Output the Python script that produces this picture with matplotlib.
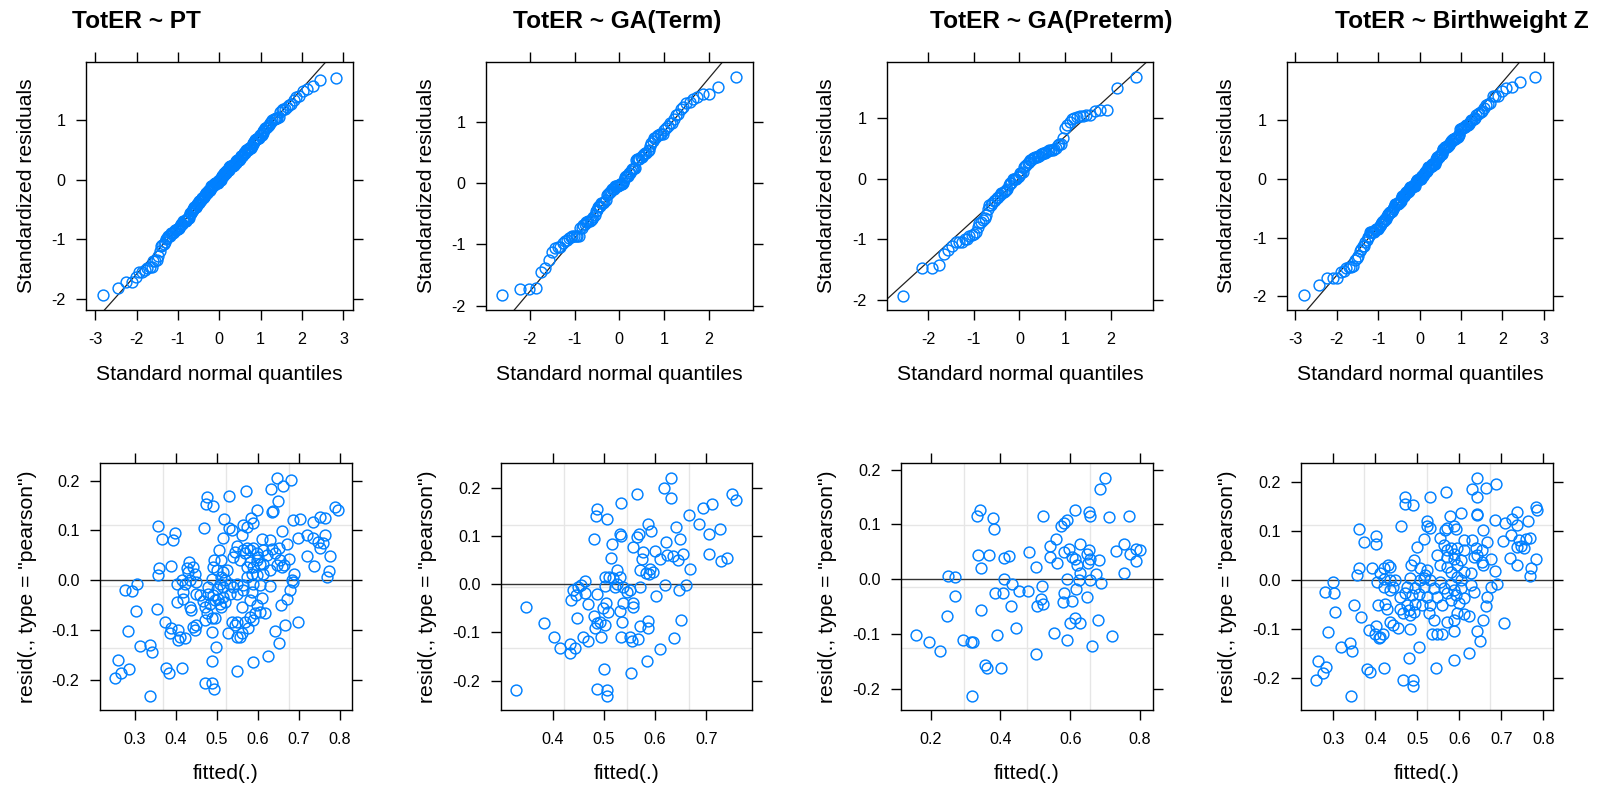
import numpy as np
import matplotlib
matplotlib.use("Agg")
import matplotlib.pyplot as plt
from statistics import NormalDist

plt.rcParams['font.family'] = ['Liberation Sans', 'DejaVu Sans']
plt.rcParams['axes.unicode_minus'] = False

# ---------------- data ----------------
titles = ["TotER ~ PT", "TotER ~ GA(Term)", "TotER ~ GA(Preterm)", "TotER ~ Birthweight Z"]

# (fitted, pearson residual) pairs
pt_points = [
(0.646,0.205),(0.681,0.201),(0.632,0.183),(0.660,0.189),(0.571,0.179),(0.530,0.169),(0.475,0.167),(0.473,0.153),(0.491,0.150),(0.648,0.160),
(0.636,0.140),(0.633,0.137),(0.597,0.142),(0.517,0.123),(0.564,0.111),(0.583,0.124),(0.589,0.114),(0.572,0.107),(0.357,0.108),(0.398,0.094),
(0.367,0.082),(0.393,0.080),(0.469,0.105),(0.530,0.104),(0.536,0.100),(0.659,0.099),(0.686,0.120),(0.702,0.122),(0.733,0.117),(0.751,0.126),
(0.763,0.124),(0.788,0.147),(0.796,0.142),(0.515,0.084),(0.560,0.090),(0.609,0.082),(0.629,0.080),(0.698,0.084),(0.719,0.090),(0.733,0.084),
(0.747,0.077),(0.763,0.090),(0.759,0.074),(0.750,0.064),(0.776,0.048),(0.719,0.048),(0.737,0.029),(0.774,0.018),(0.767,0.007),(0.506,0.060),
(0.548,0.068),(0.564,0.060),(0.572,0.064),(0.580,0.060),(0.589,0.064),(0.597,0.054),(0.613,0.060),(0.633,0.062),(0.650,0.064),(0.670,0.072),
(0.540,0.047),(0.556,0.040),(0.597,0.040),(0.613,0.033),(0.641,0.054),(0.654,0.040),(0.676,0.042),(0.664,0.030),(0.646,0.030),(0.572,0.027),
(0.589,0.027),(0.493,0.040),(0.511,0.040),(0.491,0.027),(0.499,0.020),(0.515,0.017),(0.524,0.020),(0.431,0.037),(0.426,0.025),(0.441,0.027),
(0.430,0.017),(0.359,0.025),(0.388,0.028),(0.357,0.010),(0.585,0.013),(0.597,0.010),(0.613,0.013),(0.629,0.020),(0.688,0.013),(0.682,0.000),
(0.572,0.007),(0.402,-0.008),(0.414,0.000),(0.422,-0.007),(0.434,0.000),(0.449,-0.003),(0.487,0.003),(0.511,0.007),(0.520,0.000),(0.532,-0.007),
(0.548,-0.007),(0.564,-0.010),(0.589,-0.007),(0.605,-0.010),(0.629,-0.012),(0.685,-0.003),(0.479,-0.013),(0.499,-0.017),(0.515,-0.013),(0.304,-0.007),
(0.276,-0.020),(0.294,-0.022),(0.678,-0.020),(0.670,-0.037),(0.655,-0.049),(0.609,-0.035),(0.585,-0.023),(0.564,-0.020),(0.548,-0.027),(0.532,-0.027),
(0.515,-0.033),(0.503,-0.037),(0.491,-0.030),(0.479,-0.027),(0.459,-0.030),(0.450,-0.027),(0.418,-0.023),(0.402,-0.043),(0.418,-0.037),(0.434,-0.054),
(0.437,-0.059),(0.467,-0.042),(0.471,-0.054),(0.483,-0.047),(0.495,-0.040),(0.507,-0.047),(0.520,-0.043),(0.511,-0.054),(0.560,-0.054),(0.580,-0.040),
(0.597,-0.050),(0.617,-0.067),(0.605,-0.064),(0.593,-0.067),(0.580,-0.074),(0.568,-0.084),(0.589,-0.080),(0.548,-0.084),(0.536,-0.084),(0.544,-0.090),
(0.353,-0.057),(0.302,-0.062),(0.373,-0.084),(0.388,-0.097),(0.385,-0.107),(0.406,-0.100),(0.406,-0.120),(0.422,-0.117),(0.410,-0.114),(0.442,-0.094),
(0.450,-0.090),(0.446,-0.100),(0.475,-0.067),(0.487,-0.077),(0.495,-0.077),(0.471,-0.080),(0.487,-0.105),(0.528,-0.107),(0.548,-0.114),(0.556,-0.114),
(0.560,-0.107),(0.576,-0.097),(0.641,-0.102),(0.666,-0.090),(0.698,-0.084),(0.284,-0.102),(0.312,-0.132),(0.338,-0.130),(0.341,-0.144),(0.498,-0.134),
(0.650,-0.126),(0.625,-0.153),(0.589,-0.164),(0.548,-0.183),(0.487,-0.163),(0.259,-0.161),(0.267,-0.187),(0.286,-0.179),(0.252,-0.196),(0.376,-0.177),
(0.384,-0.187),(0.416,-0.176),(0.471,-0.206),(0.489,-0.207),(0.493,-0.219),(0.338,-0.232),
(0.544,0.057),(0.568,0.054),(0.601,0.047),(0.621,0.050),(0.605,0.033),(0.580,0.037),(0.658,0.027),(0.446,0.013),(0.507,-0.007),(0.540,-0.013),
]

ga_term_points = [
(0.631,0.220),(0.617,0.199),(0.630,0.179),(0.564,0.186),(0.533,0.168),(0.486,0.155),(0.484,0.141),(0.505,0.134),(0.585,0.124),(0.592,0.110),
(0.640,0.119),(0.648,0.094),(0.666,0.143),(0.686,0.124),(0.694,0.158),(0.711,0.166),(0.750,0.186),(0.758,0.175),(0.726,0.115),(0.706,0.103),
(0.531,0.103),(0.533,0.100),(0.564,0.098),(0.568,0.103),(0.481,0.094),(0.516,0.083),(0.557,0.077),(0.577,0.067),(0.599,0.069),(0.622,0.088),
(0.623,0.060),(0.634,0.058),(0.645,0.050),(0.655,0.063),(0.609,0.051),(0.575,0.051),(0.513,0.054),(0.525,0.029),(0.502,0.014),(0.510,0.014),
(0.518,0.012),(0.531,0.014),(0.570,0.029),(0.582,0.022),(0.590,0.032),(0.595,0.026),(0.588,0.021),(0.668,0.032),(0.705,0.062),(0.728,0.048),
(0.740,0.054),(0.463,0.006),(0.456,-0.002),(0.450,-0.006),(0.440,-0.012),(0.445,-0.023),(0.435,-0.034),(0.463,-0.019),(0.468,-0.042),(0.487,-0.021),
(0.502,-0.004),(0.521,-0.006),(0.525,0.000),(0.538,-0.006),(0.544,-0.016),(0.551,-0.012),(0.571,-0.006),(0.601,-0.025),(0.619,-0.002),(0.647,-0.012),
(0.661,-0.002),(0.504,-0.040),(0.508,-0.057),(0.499,-0.050),(0.538,-0.039),(0.531,-0.055),(0.557,-0.040),(0.557,-0.048),(0.348,-0.048),(0.382,-0.081),
(0.447,-0.071),(0.481,-0.066),(0.486,-0.080),(0.492,-0.078),(0.502,-0.085),(0.483,-0.092),(0.536,-0.078),(0.570,-0.087),(0.586,-0.077),(0.585,-0.092),
(0.650,-0.074),(0.403,-0.110),(0.414,-0.132),(0.434,-0.124),(0.444,-0.133),(0.434,-0.142),(0.460,-0.109),(0.468,-0.118),(0.494,-0.109),(0.534,-0.109),
(0.551,-0.109),(0.554,-0.119),(0.567,-0.114),(0.636,-0.111),(0.610,-0.135),(0.584,-0.159),(0.501,-0.176),(0.553,-0.185),(0.329,-0.219),(0.486,-0.218),
(0.505,-0.219),(0.506,-0.232),
]

ga_preterm_points = [
(0.699,0.185),(0.684,0.165),(0.340,0.126),(0.332,0.115),(0.380,0.111),(0.382,0.092),(0.523,0.116),(0.614,0.126),(0.653,0.123),(0.657,0.116),
(0.710,0.113),(0.767,0.115),(0.590,0.108),(0.581,0.103),(0.573,0.097),(0.559,0.074),(0.541,0.061),(0.541,0.041),(0.562,0.029),(0.581,0.050),
(0.595,0.056),(0.605,0.040),(0.614,0.038),(0.627,0.064),(0.648,0.047),(0.653,0.053),(0.657,0.038),(0.651,0.030),(0.681,0.035),(0.619,0.026),
(0.629,0.011),(0.675,0.010),(0.657,-0.001),(0.624,-0.001),(0.590,0.000),(0.688,-0.007),(0.732,0.052),(0.753,0.064),(0.770,0.047),(0.787,0.055),
(0.789,0.034),(0.799,0.053),(0.755,0.012),(0.335,0.045),(0.368,0.045),(0.409,0.039),(0.423,0.042),(0.344,0.021),(0.483,0.049),(0.502,0.023),
(0.251,0.006),(0.271,0.004),(0.409,0.000),(0.433,-0.008),(0.452,-0.021),(0.478,-0.022),(0.519,-0.012),(0.383,-0.025),(0.407,-0.024),(0.581,-0.025),
(0.579,-0.041),(0.605,-0.039),(0.648,-0.033),(0.517,-0.035),(0.504,-0.048),(0.521,-0.044),(0.270,-0.030),(0.344,-0.055),(0.430,-0.048),(0.248,-0.066),
(0.444,-0.088),(0.391,-0.102),(0.552,-0.097),(0.592,-0.110),(0.600,-0.079),(0.614,-0.071),(0.629,-0.080),(0.679,-0.074),(0.720,-0.104),(0.661,-0.121),
(0.158,-0.101),(0.196,-0.115),(0.227,-0.130),(0.292,-0.110),(0.315,-0.115),(0.322,-0.115),(0.356,-0.156),(0.361,-0.162),(0.402,-0.162),(0.502,-0.136),
(0.318,-0.212),(0.617,-0.018),
]

bwz_points = [
(0.643,0.209),(0.688,0.197),(0.631,0.185),(0.663,0.187),(0.641,0.169),(0.569,0.180),(0.529,0.170),(0.471,0.170),(0.470,0.155),(0.489,0.153),
(0.641,0.133),(0.643,0.135),(0.603,0.137),(0.577,0.131),(0.523,0.121),(0.529,0.107),(0.571,0.107),(0.587,0.110),(0.593,0.105),(0.361,0.104),
(0.402,0.090),(0.372,0.078),(0.401,0.073),(0.462,0.111),(0.565,0.102),(0.522,0.110),(0.656,0.103),(0.685,0.122),(0.708,0.117),(0.725,0.124),
(0.737,0.139),(0.738,0.112),(0.764,0.121),(0.782,0.150),(0.786,0.144),(0.515,0.084),(0.555,0.085),(0.499,0.067),(0.611,0.082),(0.631,0.082),
(0.667,0.077),(0.563,0.071),(0.571,0.061),(0.579,0.065),(0.587,0.054),(0.595,0.065),(0.611,0.061),(0.639,0.065),(0.655,0.061),(0.547,0.051),
(0.571,0.048),(0.587,0.044),(0.603,0.041),(0.635,0.048),(0.643,0.051),(0.655,0.037),(0.675,0.044),(0.657,0.031),(0.723,0.092),(0.704,0.080),
(0.741,0.082),(0.758,0.083),(0.769,0.085),(0.746,0.069),(0.754,0.065),(0.738,0.067),(0.721,0.046),(0.737,0.031),(0.782,0.044),(0.770,0.024),
(0.769,0.008),(0.684,0.018),(0.491,0.041),(0.485,0.031),(0.507,0.024),(0.523,0.020),(0.519,0.010),(0.515,0.005),(0.555,0.031),(0.571,0.027),
(0.595,0.031),(0.611,0.017),(0.627,0.014),(0.579,0.017),(0.595,0.007),(0.431,0.031),(0.435,0.027),(0.420,0.024),(0.412,0.014),(0.360,0.024),
(0.392,0.025),(0.356,0.010),(0.420,0.003),(0.435,0.000),(0.447,0.000),(0.404,-0.003),(0.483,0.005),(0.507,0.000),(0.531,0.000),(0.555,-0.003),
(0.580,-0.007),(0.603,0.000),(0.628,-0.010),(0.690,-0.007),(0.675,-0.014),(0.300,-0.003),(0.280,-0.024),(0.302,-0.027),(0.475,-0.014),(0.495,-0.017),
(0.515,-0.014),(0.539,-0.017),(0.563,-0.017),(0.587,-0.020),(0.603,-0.017),(0.420,-0.014),(0.443,-0.014),(0.435,-0.020),(0.459,-0.034),(0.471,-0.027),
(0.487,-0.031),(0.503,-0.029),(0.523,-0.034),(0.547,-0.034),(0.571,-0.027),(0.591,-0.031),(0.611,-0.036),(0.667,-0.034),(0.663,-0.052),(0.635,-0.024),
(0.348,-0.050),(0.406,-0.050),(0.424,-0.048),(0.427,-0.058),(0.459,-0.058),(0.475,-0.051),(0.479,-0.061),(0.495,-0.048),(0.511,-0.051),(0.531,-0.051),
(0.559,-0.051),(0.579,-0.041),(0.599,-0.046),(0.467,-0.068),(0.483,-0.071),(0.491,-0.065),(0.527,-0.068),(0.595,-0.068),(0.611,-0.069),(0.623,-0.073),
(0.571,-0.085),(0.587,-0.082),(0.539,-0.082),(0.304,-0.066),(0.366,-0.076),(0.435,-0.085),(0.443,-0.092),(0.455,-0.097),(0.483,-0.099),(0.535,-0.109),
(0.547,-0.109),(0.559,-0.109),(0.587,-0.103),(0.657,-0.082),(0.643,-0.103),(0.649,-0.124),(0.706,-0.088),(0.384,-0.102),(0.402,-0.093),(0.400,-0.109),
(0.408,-0.119),(0.412,-0.116),(0.418,-0.109),(0.288,-0.105),(0.318,-0.137),(0.340,-0.129),(0.344,-0.144),(0.503,-0.137),(0.481,-0.158),(0.623,-0.148),
(0.587,-0.162),(0.545,-0.180),(0.264,-0.165),(0.282,-0.177),(0.275,-0.190),(0.259,-0.203),(0.381,-0.182),(0.388,-0.188),(0.420,-0.179),(0.467,-0.203),
(0.489,-0.203),(0.490,-0.216),(0.342,-0.236),
]

# residual standard deviation of each model (scales pearson -> standardized)
sigmas = [0.120, 0.127, 0.110, 0.120]

panel_points = [pt_points, ga_term_points, ga_preterm_points, bwz_points]

top_xticks = [[-3, -2, -1, 0, 1, 2, 3], [-2, -1, 0, 1, 2], [-2, -1, 0, 1, 2], [-3, -2, -1, 0, 1, 2, 3]]
top_yticks = [-2, -1, 0, 1]
bot_xticks = [[0.3, 0.4, 0.5, 0.6, 0.7, 0.8], [0.4, 0.5, 0.6, 0.7], [0.2, 0.4, 0.6, 0.8], [0.3, 0.4, 0.5, 0.6, 0.7, 0.8]]
bot_yticks = [-0.2, -0.1, 0.0, 0.1, 0.2]

# ---------------- layout / style ----------------
W, H = 1602, 788
top_xlim = [(-3.22, 3.23), (-2.98, 2.99), (-2.905, 2.93), (-3.20, 3.22)]
top_ylim = [(-2.19, 1.98), (-2.07, 1.98), (-2.165, 1.93), (-2.23, 1.99)]
bot_xlim = [(0.215, 0.829), (0.299, 0.789), (0.115, 0.837), (0.223, 0.823)]
bot_ylim = [(-0.261, 0.2355), (-0.261, 0.251), (-0.238, 0.212), (-0.265, 0.239)]

top_box_x = [(86, 353), (486, 753), (887, 1153), (1287, 1553)]
top_box_y = (62, 310)
bot_box_x = [(100, 352), (501, 752), (901, 1153), (1301, 1553)]
bot_box_y = (463, 710)
col_off = [0, 400, 800, 1200]
title_x = [72, 513, 930, 1335]

BLUE = '#0080ff'
GRID = '#e6e6e6'
TICK_FS = 11.6
LAB_FS = 15.2
TITLE_FS = 17.6
MS = 7.8

fig = plt.figure(figsize=(W / 100, H / 100), dpi=100)
fig.patch.set_facecolor('white')


def make_ax(xr, yr):
    l, r = xr
    t, b = yr
    return fig.add_axes([l / W, 1 - b / H, (r - l) / W, (b - t) / H])


def style(ax, xlim, ylim, xticks, yticks, xfmt, yfmt):
    ax.set_xlim(*xlim)
    ax.set_ylim(*ylim)
    ax.set_xticks(xticks)
    ax.set_yticks(yticks)
    ax.set_xticklabels([xfmt(v) for v in xticks], fontsize=TICK_FS)
    ax.set_yticklabels([yfmt(v) for v in yticks], fontsize=TICK_FS)
    ax.tick_params(axis='both', direction='out', length=7.2, width=1.0, color='black',
                   top=True, right=True, labeltop=False, labelright=False)
    ax.tick_params(axis='x', pad=8.5)
    ax.tick_params(axis='y', pad=7.5)
    for s in ax.spines.values():
        s.set_linewidth(1.0)
        s.set_color('black')


def fig_label_x(text, cx, base_y):
    fig.text(cx / W, 1 - base_y / H, text, ha='center', va='baseline', fontsize=LAB_FS)


def fig_label_y(text, base_x, cy):
    fig.text(base_x / W, 1 - cy / H, text, ha='center', va='baseline', rotation=90,
             rotation_mode='anchor', fontsize=LAB_FS)


nd = NormalDist()

for i in range(4):
    pts = panel_points[i]
    fitted = np.array([p[0] for p in pts])
    resid = np.array([p[1] for p in pts])

    # ---- top: normal QQ plot of standardized residuals ----
    ax = make_ax(top_box_x[i], top_box_y)
    z = np.sort(resid / sigmas[i])
    n = len(z)
    a = 0.375 if n <= 10 else 0.5
    probs = (np.arange(1, n + 1) - a) / (n + 1 - 2 * a)
    q = np.array([nd.inv_cdf(p) for p in probs])
    y1, y2 = np.quantile(z, [0.25, 0.75])
    x1, x2 = nd.inv_cdf(0.25), nd.inv_cdf(0.75)
    slope = (y2 - y1) / (x2 - x1)
    icpt = y1 - slope * x1
    ax.axline((0, icpt), slope=slope, color='#222222', lw=0.9, zorder=2)
    ax.plot(q, z, linestyle='none', marker='o', ms=MS, mfc='none', mec=BLUE, mew=1.05, zorder=3)
    style(ax, top_xlim[i], top_ylim[i], top_xticks[i], top_yticks,
          lambda v: '%d' % v, lambda v: '%d' % v)
    cx = (top_box_x[i][0] + top_box_x[i][1]) / 2
    fig_label_x("Standard normal quantiles", cx, 380)
    fig_label_y("Standardized residuals", col_off[i] + 32, (top_box_y[0] + top_box_y[1]) / 2)
    fig.text(title_x[i] / W, 1 - 28 / H, titles[i], ha='left', va='baseline',
             fontsize=TITLE_FS, fontweight='bold')

    # ---- bottom: residuals vs fitted ----
    ax = make_ax(bot_box_x[i], bot_box_y)
    xl, yl = bot_xlim[i], bot_ylim[i]
    for k in (1, 2, 3):
        ax.axvline(xl[0] + k * (xl[1] - xl[0]) / 4, color=GRID, lw=1.0, zorder=1)
        ax.axhline(yl[0] + k * (yl[1] - yl[0]) / 4, color=GRID, lw=1.0, zorder=1)
    ax.axhline(0, color='#333333', lw=1.0, zorder=2)
    ax.plot(fitted, resid, linestyle='none', marker='o', ms=MS, mfc='none', mec=BLUE, mew=1.05, zorder=3)
    style(ax, xl, yl, bot_xticks[i], bot_yticks,
          lambda v: '%.1f' % v, lambda v: '%.1f' % v)
    cx = (bot_box_x[i][0] + bot_box_x[i][1]) / 2
    fig_label_x("fitted(.)", cx, 779)
    fig_label_y('resid(., type = "pearson")', col_off[i] + 33, (bot_box_y[0] + bot_box_y[1]) / 2)

fig.savefig("out.png", dpi=100, facecolor='white')
